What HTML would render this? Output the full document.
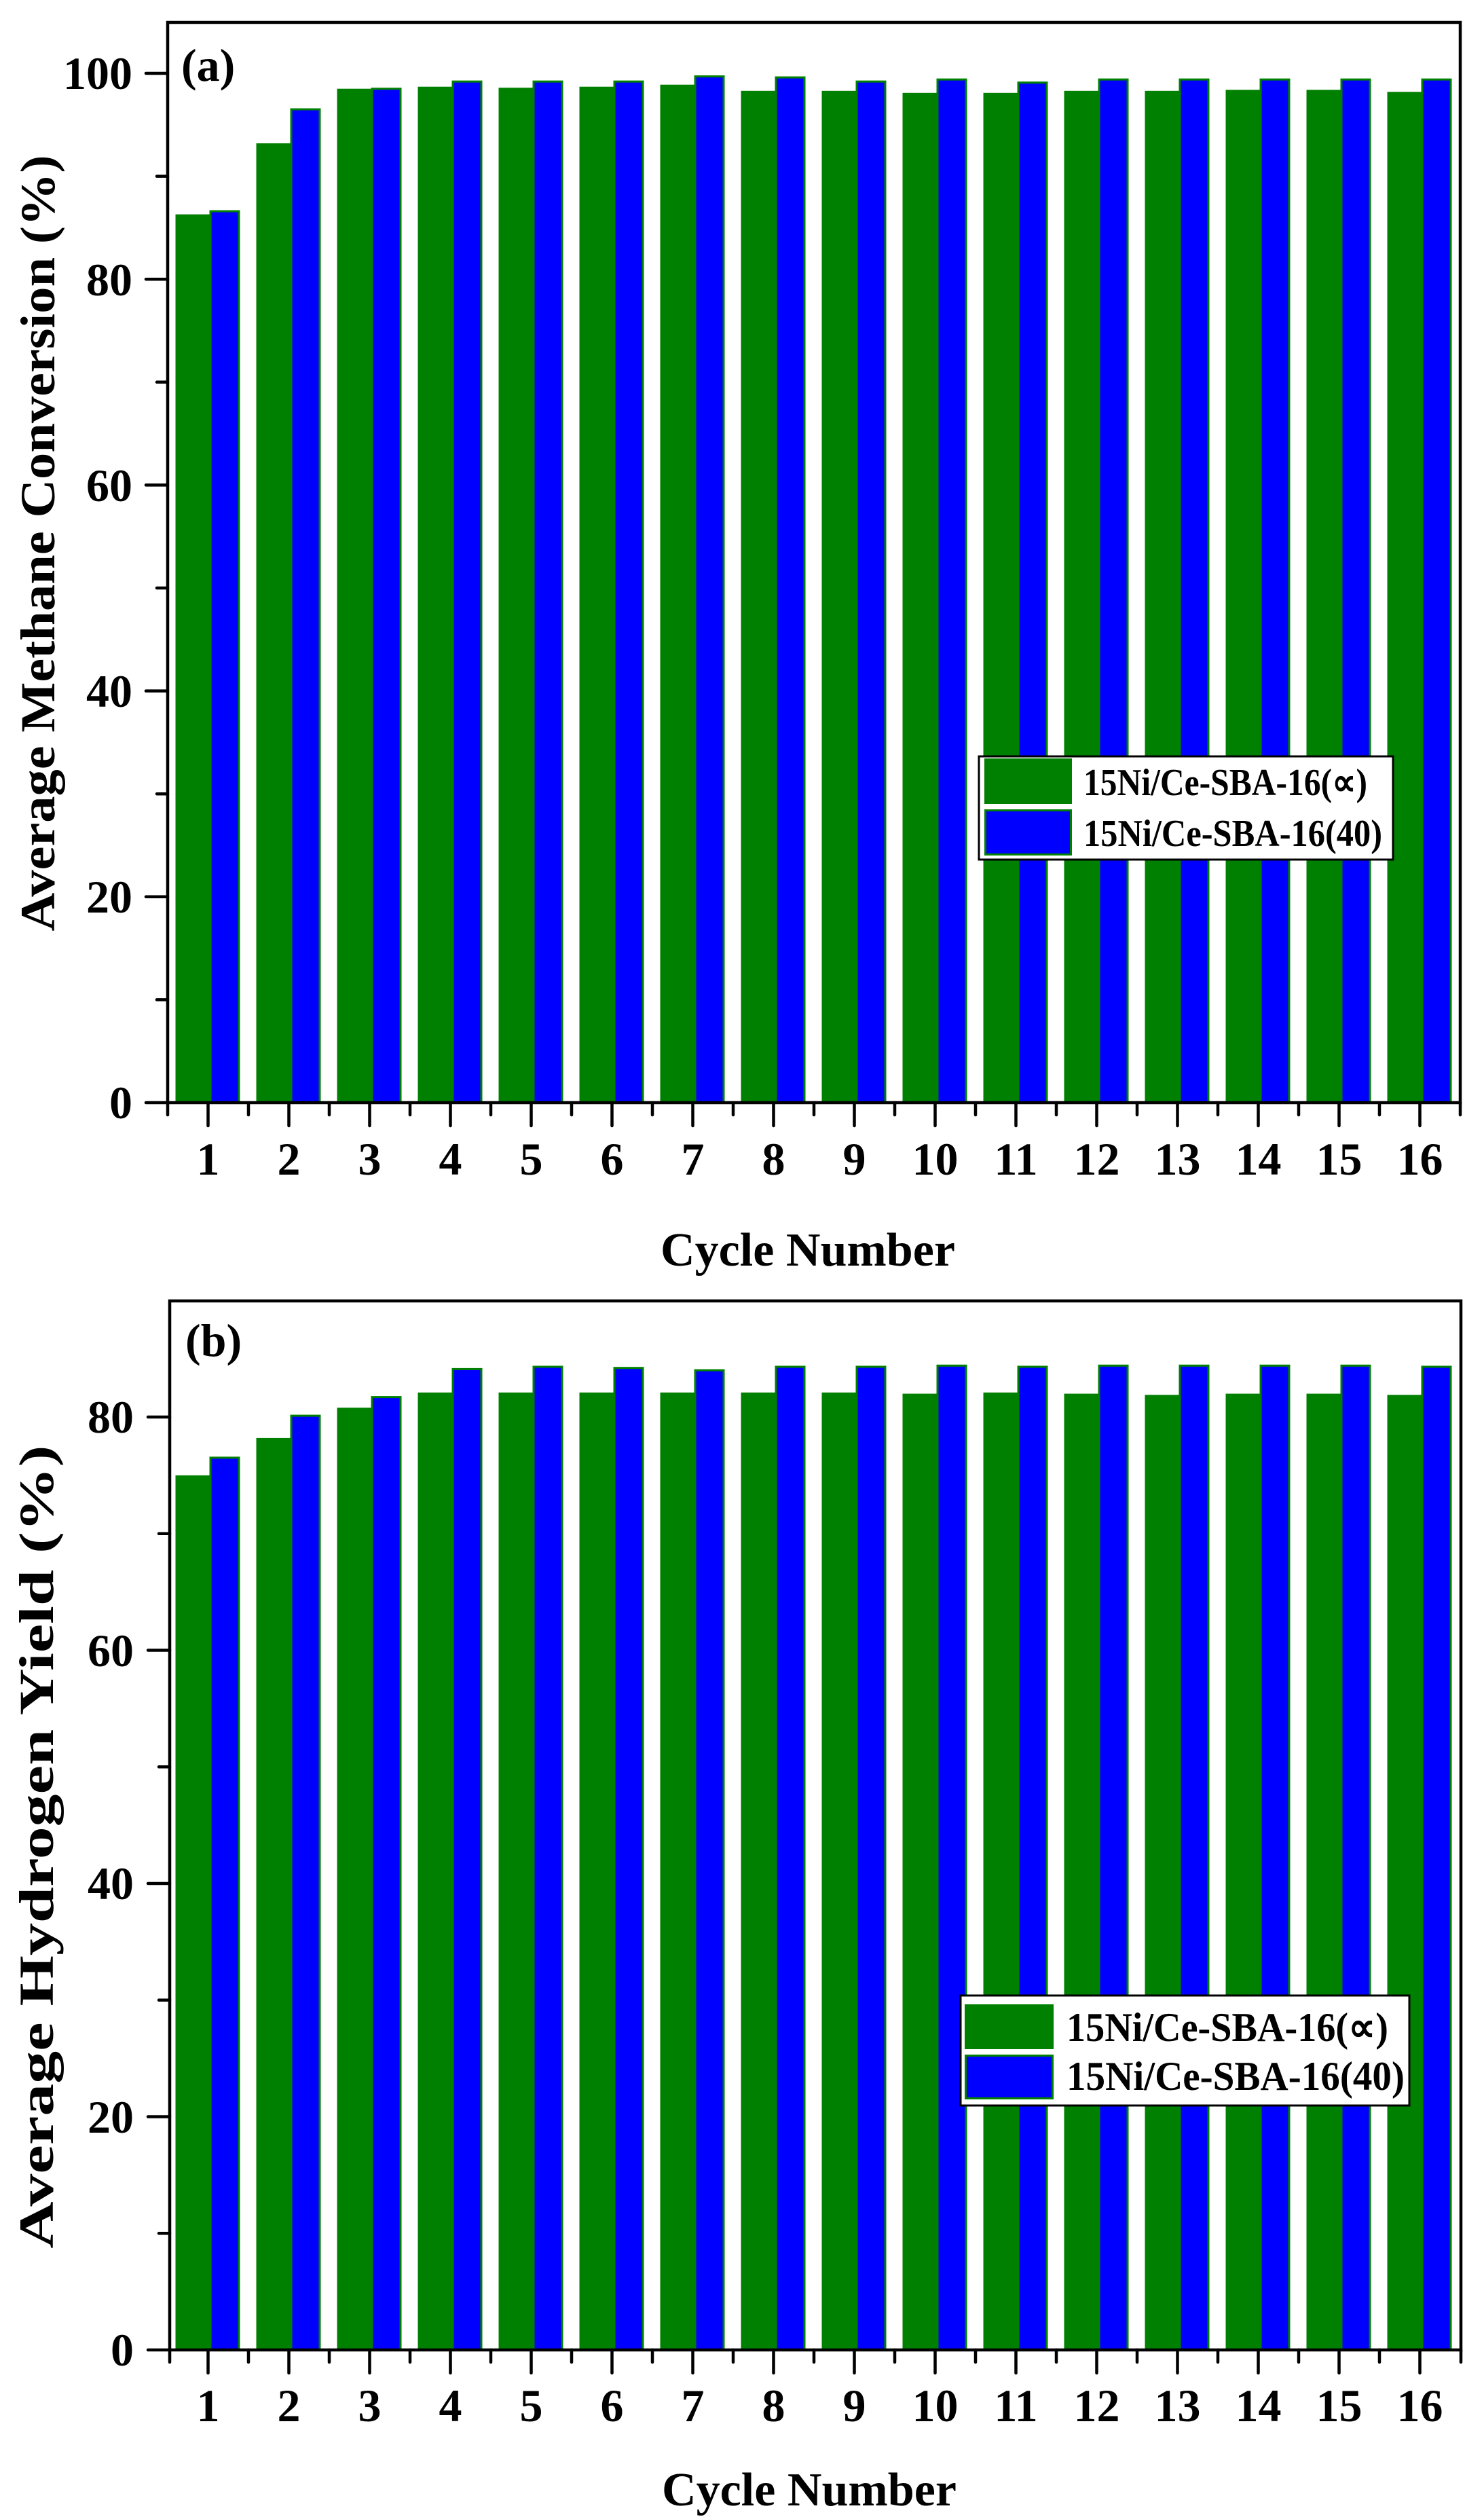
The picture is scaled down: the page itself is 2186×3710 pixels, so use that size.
<!DOCTYPE html>
<html><head><meta charset="utf-8"><style>html,body{margin:0;padding:0;background:#fff}svg{display:block}</style></head>
<body>
<svg width="2186" height="3710" viewBox="0 0 2186 3710" xmlns="http://www.w3.org/2000/svg" font-family="'Liberation Serif',serif" font-weight="bold">
<rect width="2186" height="3710" fill="#fff"/>
<!-- ===== Panel A bars ===== -->
<g fill="#008000">
<rect x="258.5" y="315.7" width="50" height="1308.3"/>
<rect x="377.5" y="211.1" width="50" height="1412.9"/>
<rect x="496.5" y="130.7" width="50" height="1493.3"/>
<rect x="615.5" y="127.7" width="50" height="1496.3"/>
<rect x="734.5" y="129.2" width="50" height="1494.8"/>
<rect x="853.5" y="127.7" width="50" height="1496.3"/>
<rect x="972.5" y="124.7" width="50" height="1499.3"/>
<rect x="1091.5" y="133.8" width="50" height="1490.2"/>
<rect x="1210.5" y="133.8" width="50" height="1490.2"/>
<rect x="1329.5" y="136.8" width="50" height="1487.2"/>
<rect x="1448.5" y="136.8" width="50" height="1487.2"/>
<rect x="1567.5" y="133.8" width="50" height="1490.2"/>
<rect x="1686.5" y="133.8" width="50" height="1490.2"/>
<rect x="1805.5" y="132.3" width="50" height="1491.7"/>
<rect x="1924.5" y="132.3" width="50" height="1491.7"/>
<rect x="2043.5" y="135.3" width="50" height="1488.7"/>
</g>
<g fill="#0000ff" stroke="#008000" stroke-width="3">
<rect x="310" y="311.1" width="42" height="1312.9"/>
<rect x="429" y="161" width="42" height="1463"/>
<rect x="548" y="130.7" width="42" height="1493.3"/>
<rect x="667" y="120.1" width="42" height="1503.9"/>
<rect x="786" y="120.1" width="42" height="1503.9"/>
<rect x="905" y="120.1" width="42" height="1503.9"/>
<rect x="1024" y="112.5" width="42" height="1511.5"/>
<rect x="1143" y="114" width="42" height="1510"/>
<rect x="1262" y="120.1" width="42" height="1503.9"/>
<rect x="1381" y="117.1" width="42" height="1506.9"/>
<rect x="1500" y="121.6" width="42" height="1502.4"/>
<rect x="1619" y="117.1" width="42" height="1506.9"/>
<rect x="1738" y="117.1" width="42" height="1506.9"/>
<rect x="1857" y="117.1" width="42" height="1506.9"/>
<rect x="1976" y="117.1" width="42" height="1506.9"/>
<rect x="2095" y="117.1" width="42" height="1506.9"/>
</g>
<!-- Panel A frame & ticks -->
<g stroke="#000" stroke-width="4.5" fill="none" stroke-linecap="round">
<rect x="247" y="33" width="1904" height="1591"/>
<path d="M247 1624H215 M247 1320.8H215 M247 1017.6H215 M247 714.4H215 M247 411.2H215 M247 108H215
M247 1472.4H231 M247 1169.2H231 M247 866H231 M247 562.8H231 M247 259.6H231"/>
<path d="M306.5 1624v34 M425.5 1624v34 M544.5 1624v34 M663.5 1624v34 M782.5 1624v34 M901.5 1624v34 M1020.5 1624v34 M1139.5 1624v34 M1258.5 1624v34 M1377.5 1624v34 M1496.5 1624v34 M1615.5 1624v34 M1734.5 1624v34 M1853.5 1624v34 M1972.5 1624v34 M2091.5 1624v34"/>
<path d="M247 1624v18 M366 1624v18 M485 1624v18 M604 1624v18 M723 1624v18 M842 1624v18 M961 1624v18 M1080 1624v18 M1199 1624v18 M1318 1624v18 M1437 1624v18 M1556 1624v18 M1675 1624v18 M1794 1624v18 M1913 1624v18 M2032 1624v18 M2151 1624v18"/>
</g>
<g font-size="68" text-anchor="end" fill="#000">
<text x="195" y="1647">0</text><text x="195" y="1344">20</text><text x="195" y="1041">40</text>
<text x="195" y="738">60</text><text x="195" y="435">80</text><text x="195" y="131">100</text>
</g>
<g font-size="68" text-anchor="middle" fill="#000">
<text x="306.5" y="1730">1</text><text x="425.5" y="1730">2</text><text x="544.5" y="1730">3</text><text x="663.5" y="1730">4</text>
<text x="782.5" y="1730">5</text><text x="901.5" y="1730">6</text><text x="1020.5" y="1730">7</text><text x="1139.5" y="1730">8</text>
<text x="1258.5" y="1730">9</text><text x="1377.5" y="1730">10</text><text x="1496.5" y="1730">11</text><text x="1615.5" y="1730">12</text>
<text x="1734.5" y="1730">13</text><text x="1853.5" y="1730">14</text><text x="1972.5" y="1730">15</text><text x="2091.5" y="1730">16</text>
</g>
<text x="267" y="119" font-size="68">(a)</text>
<text x="1190" y="1864" font-size="70" text-anchor="middle" textLength="434" lengthAdjust="spacingAndGlyphs">Cycle Number</text>
<text transform="translate(80,800) rotate(-90)" font-size="72" text-anchor="middle" textLength="1143" lengthAdjust="spacingAndGlyphs">Average Methane Conversion (%)</text>
<!-- Legend A -->
<rect x="1442" y="1114" width="610" height="152" fill="#fff" stroke="#000" stroke-width="3"/>
<rect x="1450" y="1117" width="129" height="67" fill="#008000"/>
<rect x="1451.5" y="1193.5" width="126" height="65" fill="#0000ff" stroke="#008000" stroke-width="3"/>
<text x="1596" y="1171" font-size="56" textLength="418" lengthAdjust="spacingAndGlyphs">15Ni/Ce-SBA-16(∝)</text>
<text x="1596" y="1246" font-size="56" textLength="440" lengthAdjust="spacingAndGlyphs">15Ni/Ce-SBA-16(40)</text>

<!-- ===== Panel B bars ===== -->
<g fill="#008000">
<rect x="258.5" y="2172.9" width="50" height="1288.1"/>
<rect x="377.5" y="2117.9" width="50" height="1343.1"/>
<rect x="496.5" y="2073.3" width="50" height="1387.7"/>
<rect x="615.5" y="2050.9" width="50" height="1410.1"/>
<rect x="734.5" y="2050.9" width="50" height="1410.1"/>
<rect x="853.5" y="2050.9" width="50" height="1410.1"/>
<rect x="972.5" y="2050.9" width="50" height="1410.1"/>
<rect x="1091.5" y="2050.9" width="50" height="1410.1"/>
<rect x="1210.5" y="2050.9" width="50" height="1410.1"/>
<rect x="1329.5" y="2052.6" width="50" height="1408.4"/>
<rect x="1448.5" y="2050.9" width="50" height="1410.1"/>
<rect x="1567.5" y="2052.6" width="50" height="1408.4"/>
<rect x="1686.5" y="2054.4" width="50" height="1406.6"/>
<rect x="1805.5" y="2052.6" width="50" height="1408.4"/>
<rect x="1924.5" y="2052.6" width="50" height="1408.4"/>
<rect x="2043.5" y="2054.4" width="50" height="1406.6"/>
</g>
<g fill="#0000ff" stroke="#008000" stroke-width="3">
<rect x="310" y="2146.9" width="42" height="1314.1"/>
<rect x="429" y="2085.1" width="42" height="1375.9"/>
<rect x="548" y="2057.6" width="42" height="1403.4"/>
<rect x="667" y="2016.4" width="42" height="1444.6"/>
<rect x="786" y="2013" width="42" height="1448"/>
<rect x="905" y="2014.7" width="42" height="1446.3"/>
<rect x="1024" y="2018.1" width="42" height="1442.9"/>
<rect x="1143" y="2013" width="42" height="1448"/>
<rect x="1262" y="2013" width="42" height="1448"/>
<rect x="1381" y="2011.3" width="42" height="1449.7"/>
<rect x="1500" y="2013" width="42" height="1448"/>
<rect x="1619" y="2011.3" width="42" height="1449.7"/>
<rect x="1738" y="2011.3" width="42" height="1449.7"/>
<rect x="1857" y="2011.3" width="42" height="1449.7"/>
<rect x="1976" y="2011.3" width="42" height="1449.7"/>
<rect x="2095" y="2013" width="42" height="1448"/>
</g>
<g stroke="#000" stroke-width="4.5" fill="none" stroke-linecap="round">
<rect x="250" y="1916" width="1902" height="1545"/>
<path d="M250 3461H218 M250 3117.5H218 M250 2774H218 M250 2430.5H218 M250 2087H218
M250 3289.25H234 M250 2945.75H234 M250 2602.25H234 M250 2258.75H234"/>
<path d="M306.5 3461v34 M425.5 3461v34 M544.5 3461v34 M663.5 3461v34 M782.5 3461v34 M901.5 3461v34 M1020.5 3461v34 M1139.5 3461v34 M1258.5 3461v34 M1377.5 3461v34 M1496.5 3461v34 M1615.5 3461v34 M1734.5 3461v34 M1853.5 3461v34 M1972.5 3461v34 M2091.5 3461v34"/>
<path d="M250 3461v18 M366 3461v18 M485 3461v18 M604 3461v18 M723 3461v18 M842 3461v18 M961 3461v18 M1080 3461v18 M1199 3461v18 M1318 3461v18 M1437 3461v18 M1556 3461v18 M1675 3461v18 M1794 3461v18 M1913 3461v18 M2032 3461v18 M2152 3461v18"/>
</g>
<g font-size="68" text-anchor="end" fill="#000">
<text x="197" y="3484">0</text><text x="197" y="3141">20</text><text x="197" y="2797">40</text>
<text x="197" y="2454">60</text><text x="197" y="2110">80</text>
</g>
<g font-size="68" text-anchor="middle" fill="#000">
<text x="306.5" y="3566">1</text><text x="425.5" y="3566">2</text><text x="544.5" y="3566">3</text><text x="663.5" y="3566">4</text>
<text x="782.5" y="3566">5</text><text x="901.5" y="3566">6</text><text x="1020.5" y="3566">7</text><text x="1139.5" y="3566">8</text>
<text x="1258.5" y="3566">9</text><text x="1377.5" y="3566">10</text><text x="1496.5" y="3566">11</text><text x="1615.5" y="3566">12</text>
<text x="1734.5" y="3566">13</text><text x="1853.5" y="3566">14</text><text x="1972.5" y="3566">15</text><text x="2091.5" y="3566">16</text>
</g>
<text x="273" y="1997" font-size="68">(b)</text>
<text x="1192" y="3690" font-size="70" text-anchor="middle" textLength="434" lengthAdjust="spacingAndGlyphs">Cycle Number</text>
<text transform="translate(78,2720) rotate(-90)" font-size="72" text-anchor="middle" textLength="1183" lengthAdjust="spacingAndGlyphs">Average Hydrogen Yield (%)</text>
<!-- Legend B -->
<rect x="1415" y="2939" width="661" height="162" fill="#fff" stroke="#000" stroke-width="3"/>
<rect x="1421" y="2952" width="131" height="66" fill="#008000"/>
<rect x="1422.5" y="3027.5" width="128" height="63" fill="#0000ff" stroke="#008000" stroke-width="3"/>
<text x="1571" y="3006" font-size="60" textLength="474" lengthAdjust="spacingAndGlyphs">15Ni/Ce-SBA-16(∝)</text>
<text x="1571" y="3078" font-size="60" textLength="498" lengthAdjust="spacingAndGlyphs">15Ni/Ce-SBA-16(40)</text>
</svg>
</body></html>
